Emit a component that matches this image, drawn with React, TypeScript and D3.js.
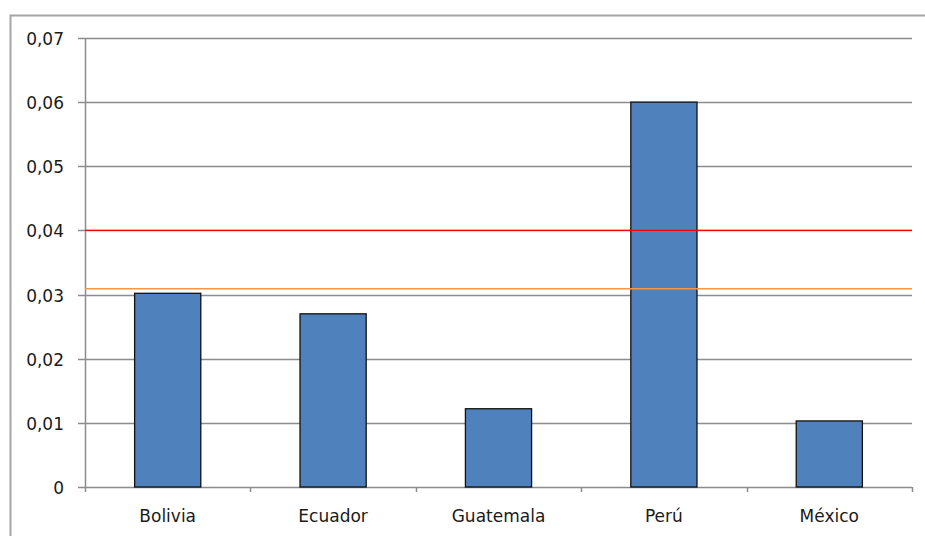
import React, { useEffect, useRef } from "react";
import * as d3 from "d3";

const countries = ["Bolivia", "Ecuador", "Guatemala", "Perú", "México"];
const values = [0.0302, 0.027, 0.0122, 0.06, 0.0103];
const yTicks = [0, 0.01, 0.02, 0.03, 0.04, 0.05, 0.06, 0.07];
const redLine = 0.04;
const orangeLine = 0.0309;

export default function App() {
  const ref = useRef<SVGSVGElement>(null);

  useEffect(() => {
    const width = 925;
    const height = 536;
    const margin = { top: 38, right: 13, bottom: 49, left: 85 };
    const innerWidth = width - margin.left - margin.right;
    const innerHeight = height - margin.top - margin.bottom;

    const svg = d3.select(ref.current);
    svg.selectAll("*").remove();

    // outer chart border
    svg.append("rect")
      .attr("x", 10.5).attr("y", 15.5)
      .attr("width", 930).attr("height", 540)
      .attr("fill", "white")
      .attr("stroke", "#a6a6a6").attr("stroke-width", 2);

    const g = svg.append("g").attr("transform", `translate(${margin.left}, ${margin.top})`);

    const xScale = d3.scaleBand().domain(countries).range([0, innerWidth]).paddingInner(0.6).paddingOuter(0.3);
    const bandScale = d3.scaleBand().domain(countries).range([0, innerWidth]);
    const yScale = d3.scaleLinear().domain([0, 0.07]).range([innerHeight, 0]);

    // gridlines
    g.selectAll(".grid")
      .data(yTicks)
      .join("line")
      .attr("x1", -7).attr("x2", innerWidth)
      .attr("y1", d => Math.round(yScale(d)) + 0.5)
      .attr("y2", d => Math.round(yScale(d)) + 0.5)
      .attr("stroke", "#8c8c8c").attr("stroke-width", 1.5);

    // y labels
    g.selectAll(".ylab")
      .data(yTicks)
      .join("text")
      .attr("x", -21)
      .attr("y", d => yScale(d) + 1)
      .attr("dy", "0.35em")
      .attr("text-anchor", "end")
      .attr("font-family", "DejaVu Sans, sans-serif")
      .attr("font-size", 17)
      .attr("fill", "#1a1a1a")
      .text(d => (d === 0 ? "0" : d3.format(".2f")(d).replace(".", ",")));

    // y axis line
    g.append("line")
      .attr("x1", 0.5).attr("x2", 0.5)
      .attr("y1", 0).attr("y2", innerHeight)
      .attr("stroke", "#8c8c8c").attr("stroke-width", 1.5);

    // x category ticks
    const bounds = countries.map(c => bandScale(c) as number).concat([innerWidth]);
    g.selectAll(".xtick")
      .data(bounds)
      .join("line")
      .attr("x1", d => Math.round(d) + 0.5).attr("x2", d => Math.round(d) + 0.5)
      .attr("y1", innerHeight).attr("y2", innerHeight + 5)
      .attr("stroke", "#8c8c8c").attr("stroke-width", 1.5);

    // bars
    g.selectAll(".bar")
      .data(values)
      .join("rect")
      .attr("x", (d, i) => (xScale(countries[i]) as number))
      .attr("y", d => yScale(d))
      .attr("width", xScale.bandwidth())
      .attr("height", d => innerHeight - yScale(d))
      .attr("fill", "#4f81bd")
      .attr("stroke", "#111").attr("stroke-width", 1.3);

    // reference lines
    g.append("line")
      .attr("x1", 0).attr("x2", innerWidth)
      .attr("y1", yScale(redLine)).attr("y2", yScale(redLine))
      .attr("stroke", "#ff0000").attr("stroke-width", 1.3);
    g.append("line")
      .attr("x1", 0).attr("x2", innerWidth)
      .attr("y1", yScale(orangeLine)).attr("y2", yScale(orangeLine))
      .attr("stroke", "#f79646").attr("stroke-width", 1.5);

    // x labels
    g.selectAll(".xlab")
      .data(countries)
      .join("text")
      .attr("x", d => (bandScale(d) as number) + bandScale.bandwidth() / 2)
      .attr("y", innerHeight + 35)
      .attr("text-anchor", "middle")
      .attr("font-family", "DejaVu Sans, sans-serif")
      .attr("font-size", 17)
      .attr("fill", "#1a1a1a")
      .text(d => d);
  }, []);

  return (
    <svg ref={ref} width={925} height={536} style={{ position: "absolute", left: 0, top: 0 }} />
  );
}
